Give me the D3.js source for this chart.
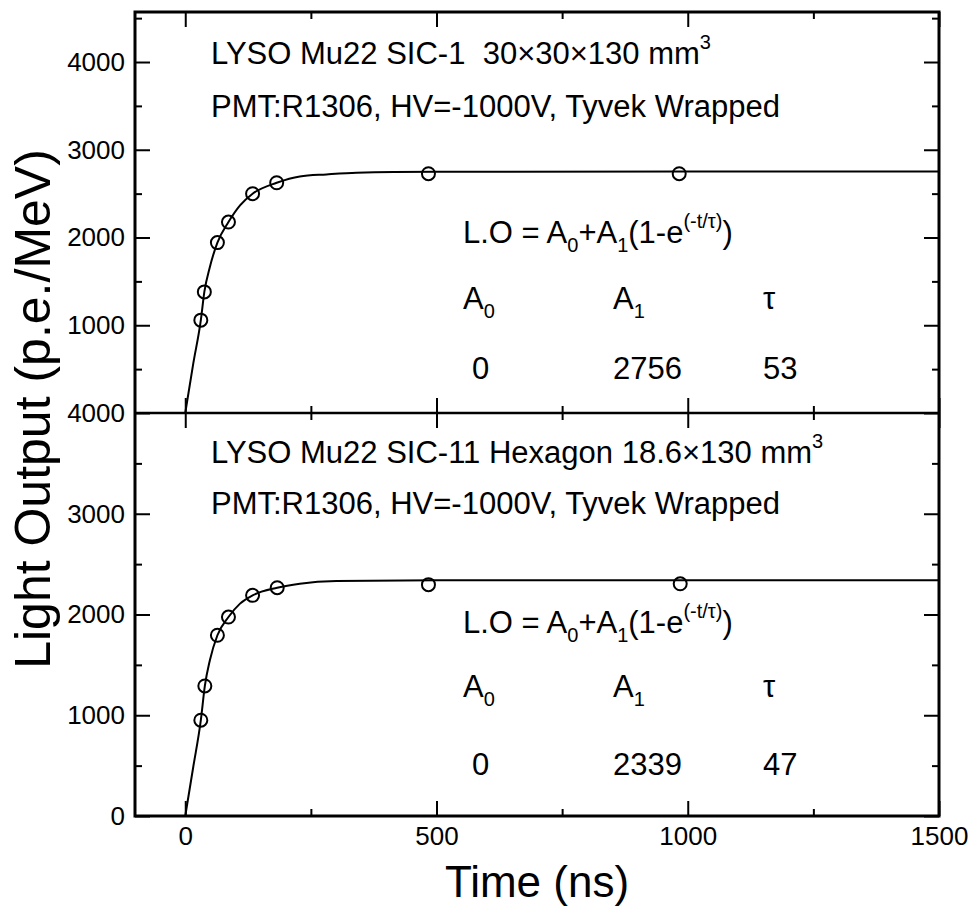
<!DOCTYPE html>
<meta charset="utf-8">
<style>
body { margin: 0; background: #fff; }
svg { font-family: Arial, "Liberation Sans", sans-serif; }
.axis .domain { display: none; }
.axis line { stroke: #000; stroke-width: 2; }
.axis text { font-size: 26px; fill: #000; }
.note { font-size: 31px; fill: #000; white-space: pre; }
</style>
<svg width="971" height="908"></svg>
<script src="https://cdn.jsdelivr.net/npm/d3@7"></script>
<script>

// measured points (time in ns, light output in p.e./MeV)
var timeTop = [31, 38, 64, 86, 134, 182, 484, 983];
var loTop = [1058, 1380, 1942, 2176, 2499, 2624, 2727, 2727];
var timeBot = [31, 39, 64, 86, 134, 183, 484, 985];
var loBot = [951, 1291, 1794, 1975, 2190, 2266, 2296, 2305];

// fitted curves
var fitTimeTop = [0, 16, 31, 38, 49, 64, 86, 109, 134, 182, 228, 281, 341, 500, 1000, 1500];
var fitTop = [0, 565, 1058, 1380, 1664, 1942, 2176, 2366, 2499, 2624, 2696, 2719, 2738, 2748, 2752, 2752];
var fitTimeBot = [0, 16, 31, 39, 49, 64, 86, 109, 134, 183, 228, 301, 500, 1000, 1500];
var fitBot = [0, 489, 951, 1291, 1546, 1794, 1975, 2108, 2190, 2266, 2306, 2332, 2339, 2339, 2339];

var xMajor = [0, 500, 1000, 1500];
var xMinor = [250, 750, 1250];
var yMajorTop = [1000, 2000, 3000, 4000];
var yMinorTop = [500, 1500, 2500, 3500, 4500];
var yMajorBot = [0, 1000, 2000, 3000, 4000];
var yMinorBot = [500, 1500, 2500, 3500];

var svg = d3.select("svg");

var x = d3.scaleLinear().domain([-100, 1500]).range([135, 939]);
var yTop = d3.scaleLinear().domain([0, 4570]).range([413, 12]);
var yBot = d3.scaleLinear().domain([0, 4000]).range([816, 413]);

function yAxes(y, major, minor, labels) {
  svg.append("g").attr("class", "axis")
      .attr("transform", "translate(135,0)")
      .call(d3.axisLeft(y).tickValues(major).tickSize(-15).tickPadding(10)
        .tickFormat(labels ? d3.format("d") : ""));
  svg.append("g").attr("class", "axis")
      .attr("transform", "translate(135,0)")
      .call(d3.axisLeft(y).tickValues(minor).tickSize(-7).tickFormat(""));
  svg.append("g").attr("class", "axis")
      .attr("transform", "translate(939,0)")
      .call(d3.axisRight(y).tickValues(major).tickSize(-15).tickFormat(""));
  svg.append("g").attr("class", "axis")
      .attr("transform", "translate(939,0)")
      .call(d3.axisRight(y).tickValues(minor).tickSize(-7).tickFormat(""));
}

function xAxes(ypos, axisFn, labels) {
  svg.append("g").attr("class", "axis")
      .attr("transform", "translate(0," + ypos + ")")
      .call(axisFn(x).tickValues(xMajor).tickSize(-15).tickPadding(11)
        .tickFormat(labels ? d3.format("d") : ""));
  svg.append("g").attr("class", "axis")
      .attr("transform", "translate(0," + ypos + ")")
      .call(axisFn(x).tickValues(xMinor).tickSize(-7).tickFormat(""));
}

yAxes(yTop, yMajorTop, yMinorTop, true);
yAxes(yBot, yMajorBot, yMinorBot, true);
xAxes(12, d3.axisTop, false);
xAxes(413, d3.axisBottom, false);
xAxes(413, d3.axisTop, false);
xAxes(816, d3.axisBottom, true);

// frame and panel divider
svg.append("rect")
    .attr("x", x(-100)).attr("y", yTop(4570))
    .attr("width", x(1500) - x(-100)).attr("height", yBot(0) - yTop(4570))
    .attr("fill", "none").attr("stroke", "#000").attr("stroke-width", 3);
svg.append("line")
    .attr("x1", x(-100)).attr("x2", x(1500))
    .attr("y1", yBot(4000)).attr("y2", yBot(4000))
    .attr("stroke", "#000").attr("stroke-width", 2.5);

function panel(y, ft, fv, pt, pv) {
  var line = d3.line()
      .x(function(d, i) { return x(ft[i]); })
      .y(function(d) { return y(d); })
      .curve(d3.curveMonotoneX);
  svg.append("path")
      .attr("d", line(fv))
      .attr("fill", "none").attr("stroke", "#000").attr("stroke-width", 2);
  svg.append("g").selectAll("circle")
    .data(pv)
    .enter().append("circle")
      .attr("cx", function(d, i) { return x(pt[i]); })
      .attr("cy", function(d) { return y(d); })
      .attr("r", 6.5)
      .attr("fill", "none").attr("stroke", "#000").attr("stroke-width", 2);
}
panel(yTop, fitTimeTop, fitTop, timeTop, loTop);
panel(yBot, fitTimeBot, fitBot, timeBot, loBot);

function note(xp, yp) {
  return svg.append("text").attr("class", "note").attr("x", xp).attr("y", yp);
}

// off = [title, pmt, formula, header row, value row] vertical shifts
function annotate(off, title, a1, tau) {
  var t = note(211, 64 + off[0]).text(title);
  t.append("tspan").attr("dy", -15).attr("font-size", 20).text("3");
  note(211, 117 + off[1]).text("PMT:R1306, HV=-1000V, Tyvek Wrapped");

  var f = note(463, 243 + off[2]).text("L.O = A");
  f.append("tspan").attr("dy", 9).attr("font-size", 20).text("0");
  f.append("tspan").attr("dy", -9).text("+A");
  f.append("tspan").attr("dy", 9).attr("font-size", 20).text("1");
  f.append("tspan").attr("dy", -9).text("(1-e");
  f.append("tspan").attr("dy", -15).attr("font-size", 20).text("(-t/\u03c4)");
  f.append("tspan").attr("dy", 15).text(")");

  var h0 = note(463, 309 + off[3]).text("A");
  h0.append("tspan").attr("dy", 9).attr("font-size", 20).text("0");
  var h1 = note(613, 309 + off[3]).text("A");
  h1.append("tspan").attr("dy", 9).attr("font-size", 20).text("1");
  note(763, 309 + off[3]).text("\u03c4");

  note(472, 379 + off[4]).text("0");
  note(613, 379 + off[4]).text(a1);
  note(763, 379 + off[4]).text(tau);
}
annotate([0, 0, 0, 0, 0], "LYSO Mu22 SIC-1  30\u00d730\u00d7130 mm", "2756", "53");
annotate([399, 397, 390, 388, 396], "LYSO Mu22 SIC-11 Hexagon 18.6\u00d7130 mm", "2339", "47");

// axis titles
svg.append("text")
    .attr("transform", "translate(50,409) rotate(-90)")
    .attr("text-anchor", "middle")
    .attr("font-size", 50)
    .text("Light Output (p.e./MeV)");
svg.append("text")
    .attr("x", 537).attr("y", 897)
    .attr("text-anchor", "middle")
    .attr("font-size", 44)
    .text("Time (ns)");

</script>
